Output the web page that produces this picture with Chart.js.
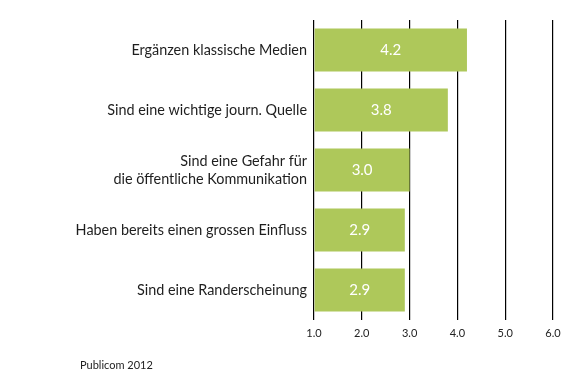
<!DOCTYPE html>
<html>
<head>
<meta charset="utf-8">
<script src="https://cdn.jsdelivr.net/npm/chart.js@4/dist/chart.umd.min.js"></script>
<style>
html,body{margin:0;padding:0;background:#fff;}
#wrap{position:relative;width:568px;height:378px;}
</style>
</head>
<body>
<div id="wrap"><canvas id="c"></canvas></div>
<script>
const categories = [
  "Ergänzen klassische Medien",
  "Sind eine wichtige journ. Quelle",
  ["Sind eine Gefahr für", "die öffentliche Kommunikation"],
  "Haben bereits einen grossen Einfluss",
  "Sind eine Randerscheinung"
];
const values = [4.2, 3.8, 3.0, 2.9, 2.9];
const valueLabels = ["4.2", "3.8", "3.0", "2.9", "2.9"];
const tickValues = [1, 2, 3, 4, 5, 6];
const sourceText = "Publicom 2012";

const FONT = "Lato, 'Open Sans', sans-serif";

const valueLabelPlugin = {
  id: 'valueLabels',
  afterDatasetsDraw(chart) {
    const ctx = chart.ctx;
    const meta = chart.getDatasetMeta(0);
    ctx.save();
    ctx.fillStyle = '#ffffff';
    ctx.font = '15px ' + FONT;
    ctx.textAlign = 'center';
    ctx.textBaseline = 'middle';
    meta.data.forEach((bar, i) => {
      const p = bar.getProps(['x', 'y', 'base'], true);
      ctx.fillText(valueLabels[i], (p.x + p.base) / 2, p.y);
    });
    ctx.restore();
  }
};

const sourcePlugin = {
  id: 'sourceText',
  afterDraw(chart) {
    const ctx = chart.ctx;
    ctx.save();
    ctx.fillStyle = '#222';
    ctx.font = '11px ' + FONT;
    ctx.textAlign = 'left';
    ctx.textBaseline = 'middle';
    ctx.fillText(sourceText, 80, 365);
    ctx.restore();
  }
};

new Chart(document.getElementById('c'), {
  type: 'bar',
  data: {
    labels: categories,
    datasets: [{
      data: values,
      base: 1,
      backgroundColor: '#aec85a',
      borderWidth: 0,
      categoryPercentage: 1,
      barPercentage: 0.72
    }]
  },
  options: {
    indexAxis: 'y',
    responsive: true,
    maintainAspectRatio: false,
    animation: false,
    layout: { padding: { top: 20, right: 15, left: 0, bottom: 0 } },
    plugins: { legend: { display: false }, tooltip: { enabled: false } },
    scales: {
      x: {
        min: 1, max: 6,
        afterBuildTicks(scale) { scale.ticks = tickValues.map(v => ({ value: v })); },
        afterFit(scale) { scale.height = 58; },
        grid: { color: '#000', lineWidth: 1.2, drawTicks: false },
        border: { display: false },
        ticks: {
          padding: 7,
          color: '#222',
          font: { family: FONT, size: 11 },
          callback: v => Number(v).toFixed(1)
        }
      },
      y: {
        afterFit(scale) { scale.width = 314; },
        grid: { display: false, drawTicks: false },
        border: { display: false },
        ticks: {
          padding: 7,
          color: '#1e1e1e',
          font: { family: FONT, size: 14.4, lineHeight: 1.25 }
        }
      }
    }
  },
  plugins: [valueLabelPlugin, sourcePlugin]
});
</script>
</body>
</html>
